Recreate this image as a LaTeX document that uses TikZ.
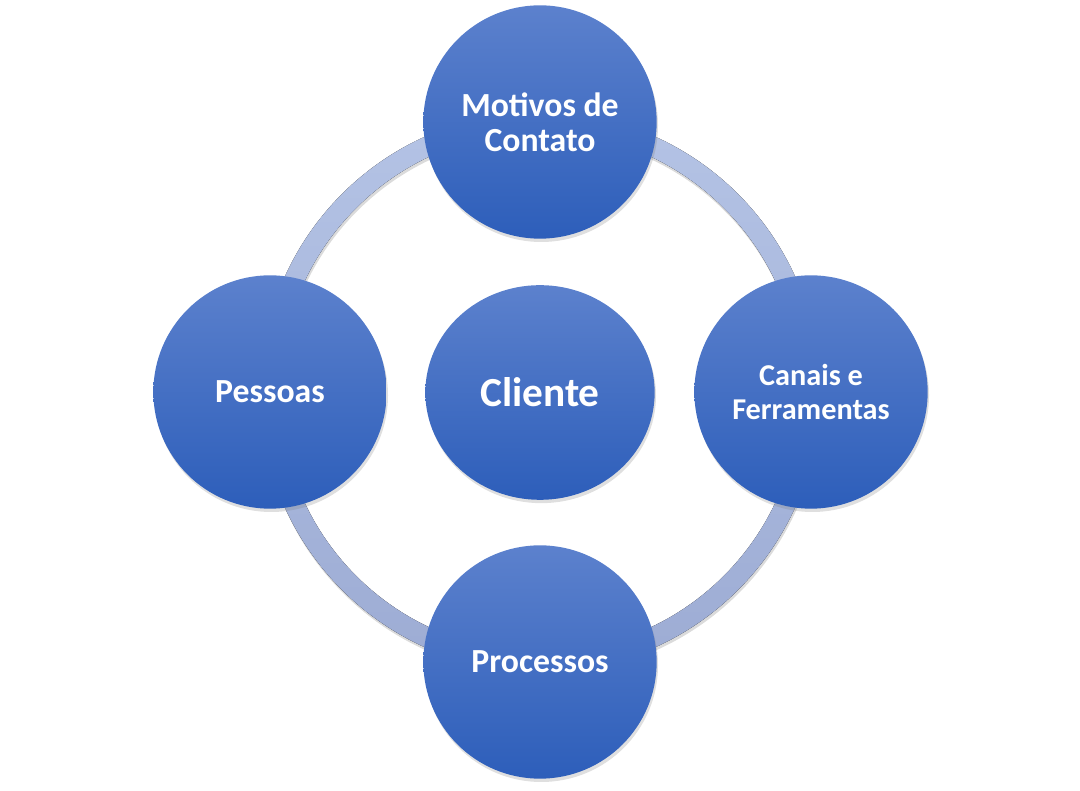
\documentclass[tikz,border=0pt]{standalone}
\usepackage{fontspec}
\setmainfont{Carlito}
\usepackage{xcolor}
\usetikzlibrary{shadows,shapes.geometric}

\definecolor{azulclaro}{RGB}{92,129,205}
\definecolor{azulescuro}{RGB}{45,94,186}
\definecolor{anelclaro}{RGB}{180,195,229}
\definecolor{anelescuro}{RGB}{157,172,212}

\tikzset{
  bola/.style={circle, minimum size=175pt, inner sep=0pt,
    top color=azulclaro, bottom color=azulescuro, draw=none,
    text=white, align=center, font=\bfseries\fontsize{25.3}{26.5}\selectfont,
    drop shadow={shadow xshift=1pt, shadow yshift=-2.5pt, opacity=0.25}},
  anelfora/.style={top color=anelclaro, bottom color=anelescuro, even odd rule}
}

\begin{document}
\begin{tikzpicture}[x=0.75pt,y=0.75pt]
\useasboundingbox (0,0) rectangle (1080,791);

\coordinate (meio) at (540,399);

%   anel
\fill[black!40, opacity=0.35, even odd rule] ([shift={(1,-3)}]meio) circle (280) circle (260);
\fill[anelfora] (meio) circle (280) circle (260);

%   bolas
\node[bola, ellipse, minimum width=172pt, minimum height=161pt,
  font=\bfseries\fontsize{31}{33}\selectfont] (cliente) at (540,398.5) {Cliente};
\node[bola] (motivos) at (540,669) {Motivos de\\Contato};
\node[bola, font=\bfseries\fontsize{22.7}{25}\selectfont] (canais) at (811,399) {Canais e\\Ferramentas};
\node[bola] (processos) at (540,129) {Processos};
\node[bola] (pessoas) at (270,399) {Pessoas};

\end{tikzpicture}
\end{document}
